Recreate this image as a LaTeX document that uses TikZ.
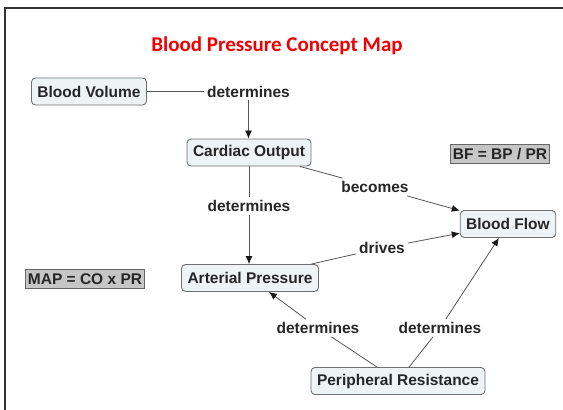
\documentclass[tikz,border=0pt]{standalone}
\usepackage{fontspec}
\setmainfont{Liberation Sans}
\newfontfamily\titlefont{Carlito}
\usetikzlibrary{arrows.meta}
\definecolor{conceptfill}{HTML}{EEF3F6}
\definecolor{conceptdraw}{HTML}{707070}
\definecolor{formulafill}{HTML}{C6C6C6}
\definecolor{linkgray}{HTML}{555555}
\definecolor{titlered}{HTML}{F00000}
\tikzset{
  txt/.style={font=\bfseries\fontsize{15.5}{18}\selectfont, text=black!85},
  concept/.style={txt, draw=conceptdraw, line width=0.9pt, fill=conceptfill, rounded corners=4pt,
    inner xsep=6pt, minimum height=27pt},
  formula/.style={txt, draw=black!60, line width=0.9pt, fill=formulafill,
    inner xsep=2pt, minimum height=19pt},
  linklabel/.style={txt, inner sep=3pt},
  link/.style={draw=linkgray, line width=0.8pt},
  arrowlink/.style={link, -{Latex[length=8pt,width=7pt,color=black!90]}},
}
\begin{document}
\begin{tikzpicture}[x=1pt,y=-1pt]
\useasboundingbox (0,0) rectangle (563,410);
% frame
\draw[line width=2pt, black!80] (5,470) -- (5,8) -- (620,8);
% title
\node (title) at (277,46) {\titlefont\bfseries\fontsize{21}{24}\selectfont\color{titlered}Blood Pressure Concept Map};
% concepts
\node[concept] (bv) at (89,91.5) {Blood Volume};
\node[concept] (co) at (249,152.5) {Cardiac Output};
\node[concept] (bf) at (508,224) {Blood Flow};
\node[concept] (ap) at (250,278) {Arterial Pressure};
\node[concept] (pr) at (398,381) {Peripheral Resistance};
% formulas
\node[formula] (bfeq) at (500,154) {BF = BP / PR};
\node[formula] (mapeq) at (85,279) {MAP = CO x PR};
% link labels
\node[linklabel] (l1) at (248.5,91.5) {determines};
\node[linklabel] (l2) at (249,206) {determines};
\node[linklabel] (l3) at (375,187) {becomes};
\node[linklabel] (l4) at (382,248) {drives};
\node[linklabel] (l5) at (318,328) {determines};
\node[linklabel] (l6) at (440,328) {determines};
% connectors
\draw[link] (bv) -- (l1);
\draw[arrowlink] (l1) -- (l1 |- co.north);
\draw[link] (co) -- (l2);
\draw[arrowlink] (l2) -- (l2 |- ap.north);
\draw[link] (co) -- (l3);
\draw[arrowlink] (l3) -- (bf);
\draw[link] (ap) -- (l4);
\draw[arrowlink] (l4) -- (bf);
\draw[link] (pr) -- (l5);
\draw[arrowlink] (l5) -- (ap);
\draw[link] (pr) -- (l6);
\draw[arrowlink] (l6) -- (bf);
\end{tikzpicture}
\end{document}
